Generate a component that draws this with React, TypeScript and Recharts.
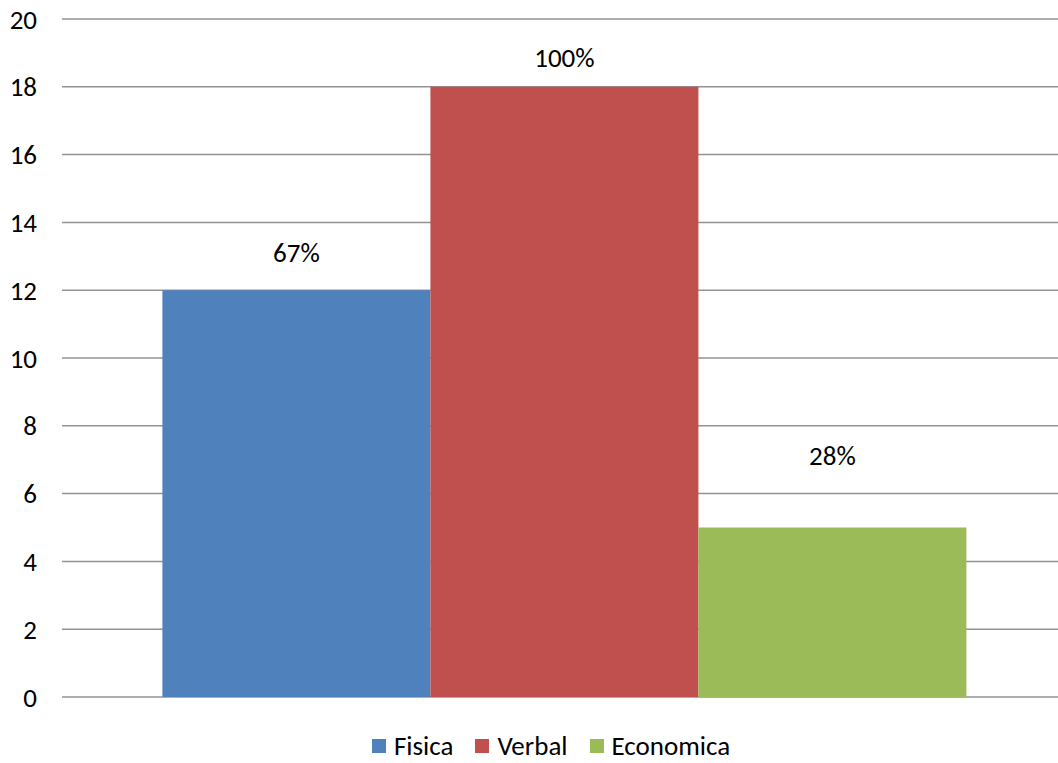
import { BarChart, Bar, YAxis, XAxis, CartesianGrid, Legend, LabelList } from 'recharts';

const categories = [''];
const seriesNames = ['Fisica', 'Verbal', 'Economica'];
const seriesValues = [12, 18, 5];
const seriesLabels = ['67%', '100%', '28%'];
const seriesColors = ['#4F81BD', '#C0504D', '#9BBB59'];
const yTicks = [0, 2, 4, 6, 8, 10, 12, 14, 16, 18, 20];

// labels were hand-placed in the original, so each gets its own gap above the bar
const labelOffsets = [28, 20, 63];

const FONT = 'Carlito, Lato, "Open Sans", sans-serif';
const FS = 27;

const chartData = categories.map((c) => {
  const row: Record<string, string | number> = { name: c };
  seriesNames.forEach((s, i) => {
    row[s] = seriesValues[i];
  });
  return row;
});

function LegendContent() {
  return (
    <div
      style={{
        display: 'flex',
        justifyContent: 'center',
        alignItems: 'center',
        height: 30,
        gap: 22,
        paddingLeft: 36,
        fontFamily: FONT,
        fontSize: FS,
        lineHeight: '30px',
        color: '#000',
      }}
    >
      {seriesNames.map((s, i) => (
        <div key={s} style={{ display: 'flex', alignItems: 'center', gap: 8 }}>
          <span style={{ display: 'inline-block', width: 14, height: 14, background: seriesColors[i] }} />
          <span>{s}</span>
        </div>
      ))}
    </div>
  );
}

export default function App() {
  return (
    <div style={{ position: 'absolute', left: 0, top: 0, width: 1058, height: 763, overflow: 'hidden', background: '#fff' }}>
      <BarChart
        width={1070}
        height={763}
        data={chartData}
        margin={{ top: 19, right: 4, bottom: 36, left: 0 }}
        barGap={0}
        barCategoryGap="10%"
      >
        <CartesianGrid vertical={false} stroke="#939393" strokeWidth={1.5} />
        <XAxis dataKey="name" hide />
        <YAxis
          domain={[0, 20]}
          ticks={yTicks}
          width={62}
          axisLine={false}
          tickLine={false}
          tickSize={0}
          tickMargin={25}
          tick={{ fill: '#000', fontSize: FS, fontFamily: FONT }}
        />
        <Legend verticalAlign="bottom" wrapperStyle={{ bottom: 2 }} content={<LegendContent />} />
        {seriesNames.map((s, i) => (
          <Bar key={s} dataKey={s} fill={seriesColors[i]} isAnimationActive={false}>
            <LabelList
              dataKey={s}
              position="top"
              offset={labelOffsets[i]}
              formatter={() => seriesLabels[i]}
              style={{ fill: '#000', fontSize: FS, fontFamily: FONT }}
            />
          </Bar>
        ))}
      </BarChart>
    </div>
  );
}
